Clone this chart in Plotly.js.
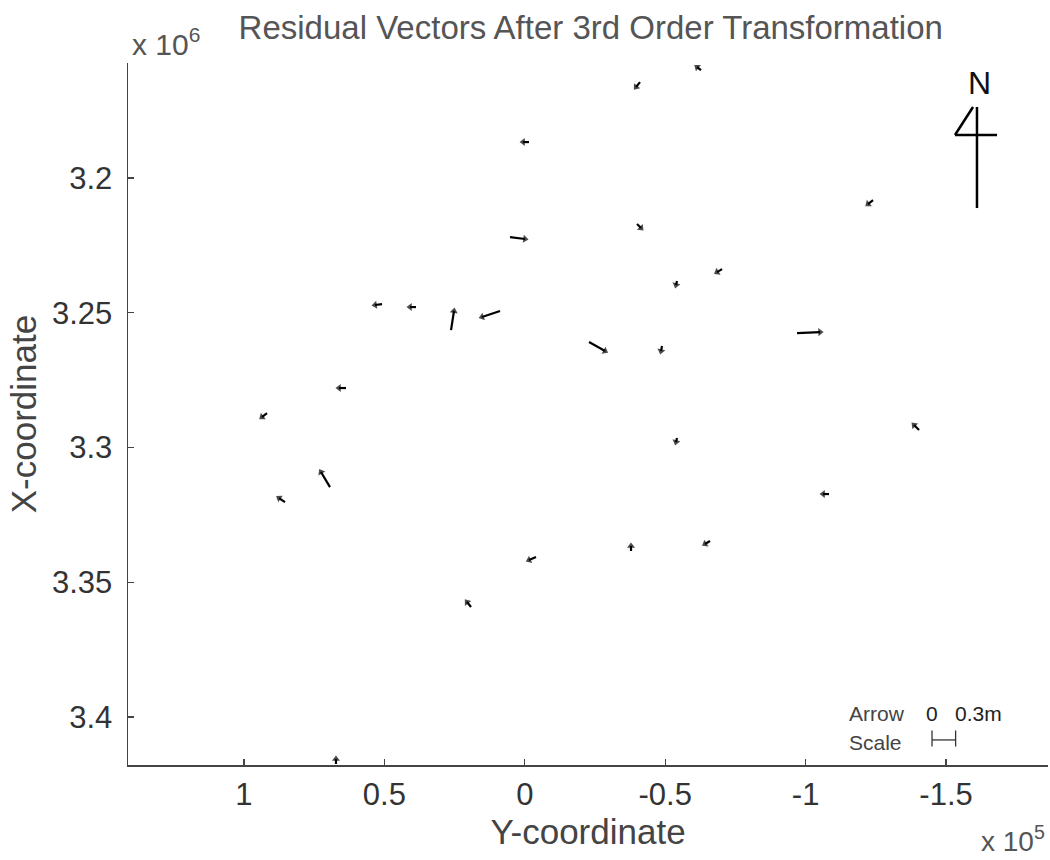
<!DOCTYPE html>
<html>
<head>
<meta charset="utf-8">
<script src="https://cdn.plot.ly/plotly-3.0.1.min.js"></script>
<style>
  html, body { margin: 0; padding: 0; background: #ffffff; }
  #chart { width: 1050px; height: 860px; }
</style>
</head>
<body>
<div id="chart"></div>
<script>
// Station positions (m)
const stationY = [-62750, -41030, -1500, 5270, -39960, -124000, -70230, -54200, -96940, -22860,
                  -48860, -54200, -140380, -108330, -37820, -65950, -3990, 19160, 50850, 38750,
                  26280, 8830, 63680, 91810, 69370, 85400, 67240];
const stationX = [3159930, 3164380, 3186640, 3221890, 3217070, 3208160, 3233770, 3238220, 3257510, 3260850,
                  3262340, 3296470, 3293510, 3317250, 3338400, 3334690, 3340630, 3359180, 3246750, 3247870,
                  3256400, 3249350, 3277920, 3287200, 3314660, 3320220, 3417440];
// Residuals after 3rd order transformation (m)
const residY = [0.051, 0.051, 0.076, -0.191, -0.051, 0.064, 0.064, 0.013, -0.293, -0.204,
                0.013, 0.013, 0.064, 0.076, 0.000, 0.064, 0.089, 0.051, 0.089, 0.076,
                -0.038, 0.229, 0.089, 0.064, 0.115, 0.076, 0.000];
const residX = [-0.040, 0.066, 0.000, 0.026, 0.053, 0.053, 0.040, 0.053, -0.013, 0.119,
                0.066, 0.053, -0.066, 0.000, -0.066, 0.040, 0.040, -0.066, 0.013, 0.000,
                -0.252, 0.079, 0.000, 0.053, -0.199, -0.053, -0.066];

const xTickVals = [1e5, 5e4, 0, -5e4, -1e5, -1.5e5];
const xTickText = ['1', '0.5', '0', '-0.5', '-1', '-1.5'];
const yTickVals = [3.2e6, 3.25e6, 3.3e6, 3.35e6, 3.4e6];
const yTickText = ['3.2', '3.25', '3.3', '3.35', '3.4'];

const arrowScale = 28000;       // plot units per metre of residual
const scaleBarLength = 0.3;     // m
const scaleBarAnchor = { x: -145000, y: 3408500, tick: 3500 };

const FONT = 'Liberation Sans, Arial, sans-serif';

// one trace per residual vector: shaft + arrowhead marker oriented along the shaft
const traces = [];
for (let i = 0; i < stationY.length; i++) {
  const x0 = stationY[i], y0 = stationX[i];
  const x1 = x0 + residY[i] * arrowScale, y1 = y0 + residX[i] * arrowScale;
  traces.push({
    type: 'scatter', mode: 'lines+markers',
    x: [x0, x1], y: [y0, y1],
    line: { color: '#000', width: 2.2 },
    marker: { symbol: 'triangle-up', size: [0, 7], color: '#000', angleref: 'previous',
              line: { width: 0 } },
    hoverinfo: 'skip', showlegend: false
  });
}

// arrow scale bar (drawn with the same scale as the vectors)
const bx0 = scaleBarAnchor.x, bx1 = scaleBarAnchor.x - scaleBarLength * arrowScale;
const by = scaleBarAnchor.y, bt = scaleBarAnchor.tick;
traces.push({
  type: 'scatter', mode: 'lines',
  x: [bx0, bx1, null, bx0, bx0, null, bx1, bx1],
  y: [by, by, null, by - bt, by + bt * 0.7, null, by - bt, by + bt * 0.7],
  line: { color: '#333', width: 1.3 }, hoverinfo: 'skip', showlegend: false
});

const annotations = [
  { xref: 'paper', yref: 'paper', x: 0.781, y: 0.073, xanchor: 'left', yanchor: 'middle',
    text: 'Arrow', showarrow: false, font: { family: FONT, size: 21, color: '#444' } },
  { xref: 'paper', yref: 'paper', x: 0.781, y: 0.032, xanchor: 'left', yanchor: 'middle',
    text: 'Scale', showarrow: false, font: { family: FONT, size: 21, color: '#444' } },
  { xref: 'paper', yref: 'paper', x: 0.874, y: 0.073, xanchor: 'center', yanchor: 'middle',
    text: '0', showarrow: false, font: { family: FONT, size: 21, color: '#222' } },
  { xref: 'paper', yref: 'paper', x: 0.897, y: 0.073, xanchor: 'left', yanchor: 'middle',
    text: '0.3m', showarrow: false, font: { family: FONT, size: 21, color: '#222' } },
  { xref: 'paper', yref: 'paper', x: 0.926, y: 0.9715, xanchor: 'center', yanchor: 'middle',
    text: 'N', showarrow: false, font: { family: FONT, size: 32, color: '#111' } },
  // multipliers
  { xref: 'paper', yref: 'paper', x: 0.002, y: 1.0, xanchor: 'left', yanchor: 'bottom',
    text: 'x 10<sup>6</sup>', showarrow: false, font: { family: FONT, size: 30, color: '#555' } },
  { xref: 'paper', yref: 'paper', x: 0.999, y: -0.134, xanchor: 'right', yanchor: 'bottom',
    text: 'x 10<sup>5</sup>', showarrow: false, font: { family: FONT, size: 28, color: '#555' } }
];

// N (north) symbol
const shapes = [
  { type: 'line', xref: 'paper', yref: 'paper', x0: 0.9228, x1: 0.9228, y0: 0.9373, y1: 0.7934,
    line: { color: '#000', width: 2.5 } },
  { type: 'line', xref: 'paper', yref: 'paper', x0: 0.8989, x1: 0.9446, y0: 0.8974, y1: 0.8974,
    line: { color: '#000', width: 2.5 } },
  { type: 'line', xref: 'paper', yref: 'paper', x0: 0.9185, x1: 0.8989, y0: 0.9373, y1: 0.8974,
    line: { color: '#000', width: 2.5 } }
];

const layout = {
  width: 1050, height: 860,
  margin: { l: 128, r: 2, t: 63, b: 95 },
  paper_bgcolor: '#ffffff', plot_bgcolor: '#ffffff',
  showlegend: false,
  title: { text: 'Residual Vectors After 3rd Order Transformation',
           font: { family: FONT, size: 33, color: '#555' },
           x: 0.503, xref: 'paper', xanchor: 'center', y: 0.968, yanchor: 'middle' },
  xaxis: {
    range: [141300, -186300], autorange: false,
    tickmode: 'array', tickvals: xTickVals, ticktext: xTickText,
    ticks: 'inside', ticklen: 6, tickwidth: 1.3, tickcolor: '#444',
    showline: true, linecolor: '#444', linewidth: 1.5, mirror: false,
    showgrid: false, zeroline: false,
    tickfont: { family: FONT, size: 31, color: '#333' },
    ticklabelstandoff: 1,
    title: { text: 'Y-coordinate', font: { family: FONT, size: 35, color: '#444' }, standoff: 6 }
  },
  yaxis: {
    range: [3417800, 3157300], autorange: false,
    tickmode: 'array', tickvals: yTickVals, ticktext: yTickText,
    ticks: 'inside', ticklen: 6, tickwidth: 1.3, tickcolor: '#444',
    showline: true, linecolor: '#444', linewidth: 1.5, mirror: false,
    showgrid: false, zeroline: false,
    tickfont: { family: FONT, size: 31, color: '#333' },
    ticklabelstandoff: 8,
    title: { text: 'X-coordinate', font: { family: FONT, size: 35, color: '#444' }, standoff: 4 }
  },
  annotations: annotations,
  shapes: shapes
};

Plotly.newPlot('chart', traces, layout, { displayModeBar: false, staticPlot: true });
</script>
</body>
</html>
